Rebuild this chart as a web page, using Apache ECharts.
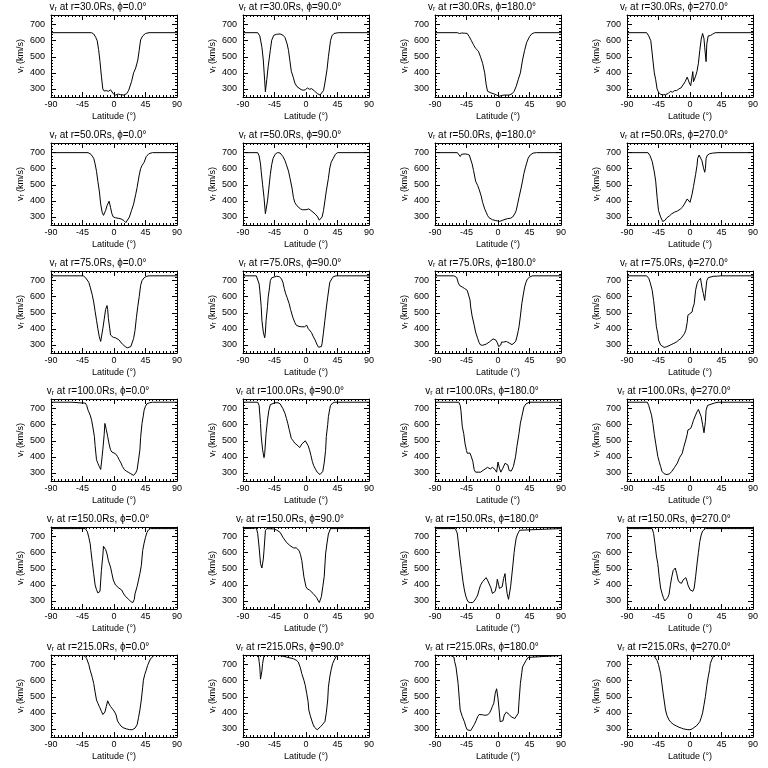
<!DOCTYPE html>
<html><head><meta charset="utf-8">
<script src="https://cdn.jsdelivr.net/npm/echarts@6/dist/echarts.min.js"></script>
<style>html,body{margin:0;padding:0;background:#fff}#c{width:768px;height:768px}</style>
</head><body><div id="c"></div>
<script>
// ---- labels / ticks ----
const radii = ['30.0', '50.0', '75.0', '100.0', '150.0', '215.0'];
const phis = ['0.0', '90.0', '180.0', '270.0'];
const xTicks = [-90, -45, 0, 45, 90];
const yTicks = [300, 400, 500, 600, 700];
const yMinorTicks = [260, 280, 320, 340, 360, 380, 420, 440, 460, 480, 520, 540, 560, 580, 620, 640, 660, 680, 720, 740];

// ---- data: [latitude (deg), v_r (km/s)] ----
const v_r30_p0 = [[-90,650],[-32,650],[-29,642],[-26,620],[-24,600],[-22,545],[-20,470],[-18,380],[-16,300],[-14,287],[-11,290],[-8,285],[-5,295],[-3,285],[-1,270],[2,262],[6,268],[9,265],[14,262],[18,270],[21,292],[25,345],[28,400],[31,430],[34,480],[36,540],[38,605],[41,630],[45,645],[50,650],[90,650]];
const v_r30_p90 = [[-90,650],[-69,650],[-66,630],[-63,560],[-61,480],[-59,350],[-58,282],[-56,360],[-54,440],[-51,540],[-49,603],[-46,634],[-42,640],[-37,642],[-33,635],[-30,620],[-27,580],[-25,540],[-23,475],[-21,410],[-18,370],[-16,337],[-13,315],[-11,306],[-7,296],[-4,292],[-1,295],[2,306],[5,298],[8,302],[12,288],[16,272],[20,262],[22,260],[25,290],[27,337],[30,420],[32,500],[35,600],[37,630],[40,645],[46,650],[90,650]];
const v_r30_p180 = [[-90,650],[-58,650],[-55,645],[-52,648],[-48,647],[-44,645],[-41,625],[-38,600],[-35,575],[-32,552],[-28,535],[-25,500],[-22,460],[-19,400],[-17,330],[-15,286],[-10,275],[-6,270],[-2,262],[2,255],[6,260],[9,262],[13,262],[16,262],[20,270],[23,285],[26,316],[29,360],[32,400],[35,480],[38,540],[41,590],[45,625],[48,642],[52,650],[90,650]];
const v_r30_p270 = [[-90,650],[-62,650],[-59,630],[-56,600],[-53,480],[-51,400],[-49,357],[-47,300],[-45,280],[-42,266],[-38,264],[-35,265],[-31,272],[-28,285],[-25,280],[-22,290],[-19,290],[-16,300],[-13,306],[-10,325],[-7,345],[-4,374],[-2,350],[-1,337],[1,320],[2,312],[4,408],[5,345],[6,350],[8,380],[10,410],[12,460],[14,540],[16,610],[18,645],[20,612],[21,560],[23,470],[24,580],[26,630],[29,632],[32,640],[36,650],[90,650]];

const v_r50_p0 = [[-90,700],[-37,700],[-33,690],[-29,665],[-27,630],[-25,584],[-23,520],[-21,462],[-19,380],[-17,330],[-15,310],[-12,340],[-10,370],[-7,398],[-5,360],[-3,320],[-1,300],[2,295],[6,292],[10,288],[14,278],[17,265],[19,268],[22,300],[25,340],[28,380],[31,440],[33,483],[36,560],[38,600],[40,620],[43,640],[46,675],[50,694],[55,700],[90,700]];
const v_r50_p90 = [[-90,700],[-69,700],[-67,680],[-65,630],[-64,584],[-62,500],[-60,422],[-58,320],[-57,318],[-55,400],[-53,480],[-51,564],[-49,625],[-47,665],[-44,690],[-41,700],[-37,698],[-33,676],[-30,650],[-28,625],[-25,585],[-23,544],[-20,480],[-18,422],[-16,390],[-13,370],[-11,360],[-8,350],[-5,345],[0,345],[4,350],[7,340],[10,330],[13,318],[16,305],[19,280],[21,272],[23,300],[25,340],[27,400],[29,462],[32,540],[34,605],[36,640],[39,665],[42,690],[45,700],[90,700]];
const v_r50_p180 = [[-90,700],[-58,700],[-56,690],[-54,676],[-52,690],[-51,695],[-47,692],[-44,690],[-41,685],[-39,676],[-37,630],[-35,590],[-32,523],[-29,495],[-27,472],[-24,430],[-22,391],[-19,350],[-17,330],[-15,310],[-13,296],[-8,283],[-4,278],[-1,276],[2,272],[4,280],[7,280],[10,285],[14,290],[18,292],[21,300],[24,320],[26,340],[28,380],[30,422],[33,480],[35,523],[37,570],[39,605],[41,635],[43,665],[46,685],[50,697],[55,700],[90,700]];
const v_r50_p270 = [[-90,700],[-60,700],[-57,680],[-54,645],[-51,580],[-49,523],[-47,422],[-45,340],[-42,300],[-39,272],[-36,278],[-33,295],[-29,308],[-26,320],[-22,330],[-18,337],[-14,348],[-11,360],[-8,380],[-6,391],[-4,412],[-2,418],[0,391],[1,395],[3,442],[5,490],[8,564],[10,620],[11,665],[13,685],[15,688],[17,650],[19,610],[21,578],[22,600],[23,665],[25,685],[28,693],[32,697],[40,700],[90,700]];

const v_r75_p0 = [[-90,730],[-44,730],[-41,720],[-39,710],[-36,690],[-34,660],[-31,610],[-29,567],[-27,510],[-25,454],[-23,400],[-21,350],[-19,322],[-18,330],[-16,400],[-14,460],[-12,520],[-10,545],[-9,520],[-8,464],[-6,400],[-5,362],[-3,350],[-1,347],[2,345],[4,340],[7,332],[9,320],[12,305],[16,290],[19,282],[21,280],[24,290],[26,300],[28,340],[30,390],[32,470],[34,540],[36,600],[38,670],[40,700],[43,718],[46,726],[50,730],[90,730]];
const v_r75_p90 = [[-90,730],[-71,730],[-69,720],[-67,680],[-66,640],[-64,540],[-63,454],[-61,380],[-59,345],[-58,380],[-57,454],[-55,540],[-54,597],[-52,660],[-51,700],[-49,718],[-47,725],[-42,727],[-38,725],[-35,710],[-33,690],[-31,650],[-29,618],[-27,595],[-24,556],[-22,520],[-19,474],[-16,440],[-14,423],[-10,415],[-6,413],[-2,413],[1,423],[3,403],[5,395],[8,376],[10,355],[13,331],[16,300],[18,286],[20,280],[22,290],[23,310],[25,380],[27,454],[29,530],[31,597],[33,660],[34,690],[37,712],[39,725],[43,730],[90,730]];
const v_r75_p180 = [[-90,730],[-63,730],[-61,727],[-59,720],[-57,690],[-55,670],[-53,665],[-51,660],[-48,652],[-46,643],[-44,640],[-42,628],[-40,580],[-39,536],[-37,480],[-34,423],[-32,380],[-29,340],[-27,315],[-25,300],[-22,298],[-20,300],[-17,305],[-15,310],[-12,320],[-10,330],[-7,338],[-5,340],[-3,330],[-1,314],[1,290],[2,285],[4,300],[5,318],[8,318],[10,318],[12,322],[14,327],[16,312],[17,300],[20,302],[22,305],[25,320],[27,350],[29,390],[30,413],[32,480],[34,556],[36,610],[38,660],[40,690],[42,710],[45,722],[49,730],[90,730]];
const v_r75_p270 = [[-90,730],[-62,730],[-59,715],[-57,690],[-54,640],[-52,577],[-50,500],[-48,413],[-46,370],[-45,331],[-42,300],[-40,290],[-37,285],[-34,288],[-30,295],[-27,302],[-23,310],[-19,320],[-16,331],[-13,340],[-11,350],[-8,370],[-6,392],[-4,440],[-3,485],[-1,490],[0,495],[3,505],[4,530],[6,556],[8,640],[10,680],[12,700],[15,715],[17,660],[19,620],[21,577],[22,620],[24,700],[26,718],[27,725],[33,727],[39,728],[44,730],[90,730]];

const v_r100_p0 = [[-90,740],[-60,740],[-58,735],[-45,735],[-41,735],[-39,720],[-37,690],[-34,660],[-32,628],[-30,580],[-28,526],[-27,470],[-25,382],[-23,360],[-21,340],[-19,322],[-18,330],[-17,400],[-16,444],[-14,540],[-13,608],[-11,570],[-9,526],[-7,480],[-5,444],[-3,430],[-2,423],[2,420],[5,403],[7,385],[10,362],[12,340],[15,320],[18,310],[21,303],[24,295],[26,288],[28,285],[31,300],[33,320],[35,380],[37,444],[38,520],[40,608],[42,660],[43,690],[45,715],[47,730],[51,737],[55,740],[90,740]];
const v_r100_p90 = [[-90,740],[-69,740],[-67,720],[-65,608],[-64,530],[-62,444],[-60,395],[-59,420],[-57,546],[-55,630],[-53,690],[-51,725],[-49,735],[-45,736],[-40,737],[-37,730],[-35,720],[-33,700],[-30,670],[-28,640],[-26,608],[-24,570],[-21,515],[-18,498],[-16,485],[-13,475],[-11,464],[-9,458],[-6,480],[-4,490],[-1,500],[1,495],[3,470],[5,444],[7,410],[9,372],[11,345],[14,320],[16,305],[18,298],[20,290],[22,280],[24,310],[26,362],[28,440],[29,526],[31,600],[32,650],[34,700],[35,720],[38,735],[41,740],[90,740]];
const v_r100_p180 = [[-90,740],[-56,740],[-54,720],[-53,690],[-51,587],[-49,546],[-47,480],[-45,440],[-44,423],[-40,423],[-38,400],[-36,372],[-34,320],[-32,305],[-30,300],[-25,305],[-20,320],[-15,335],[-11,325],[-8,335],[-4,320],[-2,305],[0,368],[2,330],[4,305],[7,330],[10,360],[12,365],[14,350],[16,315],[19,312],[22,340],[25,400],[27,464],[30,546],[32,610],[34,650],[37,710],[40,730],[42,735],[45,740],[90,740]];
const v_r100_p270 = [[-90,740],[-61,740],[-59,720],[-57,690],[-55,660],[-53,608],[-51,540],[-49,485],[-47,430],[-46,403],[-44,370],[-42,340],[-40,310],[-37,295],[-33,290],[-29,295],[-26,310],[-22,335],[-18,362],[-15,395],[-11,423],[-9,460],[-6,505],[-4,540],[-3,567],[-1,575],[1,577],[3,600],[5,628],[8,660],[10,680],[12,695],[14,690],[16,650],[18,600],[20,550],[21,545],[22,620],[23,690],[25,720],[27,730],[35,735],[40,740],[90,740]];

const v_r150_p0 = [[-90,750],[-41,750],[-38,730],[-36,696],[-34,655],[-33,614],[-31,540],[-29,470],[-27,400],[-25,370],[-23,350],[-21,340],[-20,360],[-18,490],[-16,580],[-15,640],[-14,650],[-12,620],[-10,593],[-8,550],[-5,511],[-3,470],[-1,430],[2,400],[4,388],[7,380],[9,378],[11,368],[13,350],[16,330],[18,322],[21,310],[24,296],[27,290],[29,310],[30,344],[33,390],[35,430],[37,470],[39,520],[41,614],[43,660],[45,696],[47,725],[49,741],[52,750],[90,750]];
const v_r150_p90 = [[-90,750],[-74,752],[-71,755],[-69,720],[-67,635],[-65,532],[-63,505],[-61,560],[-60,614],[-58,737],[-56,750],[-54,750],[-46,748],[-42,741],[-37,727],[-33,696],[-28,665],[-23,645],[-18,630],[-14,630],[-10,614],[-8,590],[-6,552],[-3,450],[0,388],[2,375],[5,368],[10,347],[15,322],[17,305],[19,290],[21,300],[22,327],[24,390],[26,450],[28,593],[30,660],[32,716],[35,750],[90,750]];
const v_r150_p180 = [[-90,750],[-61,750],[-59,730],[-58,716],[-56,635],[-54,560],[-52,490],[-50,420],[-48,368],[-46,330],[-44,306],[-42,292],[-39,290],[-36,290],[-33,306],[-31,320],[-29,337],[-27,370],[-25,398],[-22,420],[-20,430],[-17,445],[-15,430],[-13,419],[-10,380],[-8,347],[-6,335],[-4,360],[-2,398],[-1,435],[1,400],[2,378],[4,372],[6,388],[8,440],[10,470],[11,420],[13,347],[15,310],[16,320],[18,388],[21,511],[23,600],[24,635],[26,690],[28,716],[31,740],[33,750],[90,750]];
const v_r150_p270 = [[-90,750],[-54,750],[-52,720],[-50,655],[-48,580],[-46,532],[-44,450],[-42,380],[-40,347],[-38,320],[-36,300],[-34,297],[-32,320],[-30,340],[-28,400],[-26,450],[-24,490],[-21,505],[-19,470],[-17,430],[-15,415],[-12,410],[-10,430],[-8,440],[-6,445],[-4,420],[-3,400],[0,370],[2,362],[4,360],[6,380],[8,450],[10,530],[12,600],[14,670],[16,710],[18,735],[22,750],[90,750]];

const v_r215_p0 = [[-90,757],[-44,757],[-41,750],[-39,737],[-36,700],[-34,665],[-31,620],[-29,583],[-27,530],[-25,480],[-23,460],[-21,440],[-18,410],[-16,390],[-15,380],[-13,405],[-11,440],[-9,475],[-7,455],[-5,440],[-3,430],[-1,418],[1,405],[3,387],[5,350],[7,336],[10,318],[13,308],[18,300],[22,296],[26,295],[30,305],[33,326],[35,370],[37,418],[39,480],[41,560],[42,603],[44,640],[46,665],[48,695],[50,716],[52,735],[54,747],[57,757],[90,757]];
const v_r215_p90 = [[-90,757],[-68,757],[-67,720],[-66,685],[-65,610],[-63,660],[-62,706],[-60,757],[-40,757],[-35,755],[-28,747],[-18,737],[-14,728],[-11,716],[-8,680],[-6,644],[-3,603],[-1,570],[1,521],[3,470],[4,418],[6,385],[8,356],[10,330],[12,311],[14,300],[16,295],[18,298],[21,315],[24,330],[27,346],[29,400],[31,480],[32,560],[34,624],[36,670],[38,706],[41,735],[44,757],[90,757]];
const v_r215_p180 = [[-90,757],[-68,757],[-66,752],[-63,747],[-62,720],[-60,685],[-57,583],[-55,470],[-54,418],[-51,377],[-48,345],[-46,315],[-44,295],[-42,290],[-39,290],[-37,300],[-34,326],[-31,355],[-29,377],[-27,390],[-25,398],[-22,388],[-19,385],[-15,387],[-12,400],[-10,418],[-8,440],[-6,460],[-4,520],[-2,550],[-1,545],[0,490],[2,400],[3,346],[5,335],[7,350],[9,387],[12,405],[13,408],[16,390],[19,375],[21,367],[24,365],[26,367],[29,398],[30,470],[32,583],[34,650],[35,685],[38,710],[40,726],[43,745],[45,757],[90,757]];
const v_r215_p270 = [[-90,757],[-52,757],[-50,745],[-47,726],[-45,700],[-42,644],[-39,542],[-37,480],[-35,418],[-33,385],[-30,356],[-27,340],[-23,326],[-19,318],[-16,311],[-12,305],[-9,300],[-4,296],[0,295],[3,300],[6,310],[9,318],[11,326],[14,345],[16,370],[18,400],[20,450],[22,501],[24,570],[26,624],[28,670],[29,706],[31,730],[34,757],[90,757]];

const panelData = [
  [v_r30_p0, v_r30_p90, v_r30_p180, v_r30_p270],
  [v_r50_p0, v_r50_p90, v_r50_p180, v_r50_p270],
  [v_r75_p0, v_r75_p90, v_r75_p180, v_r75_p270],
  [v_r100_p0, v_r100_p90, v_r100_p180, v_r100_p270],
  [v_r150_p0, v_r150_p90, v_r150_p180, v_r150_p270],
  [v_r215_p0, v_r215_p90, v_r215_p180, v_r215_p270]
];

// ---- build chart ----
const FONT = 'Liberation Sans, DejaVu Sans, sans-serif';
const BLACK = '#000';
const grids = [], xAxes = [], yAxes = [], series = [], titles = [];
const txt = (size) => ({ color: BLACK, fontSize: size, fontFamily: FONT });

for (let i = 0; i < radii.length; i++) {
  for (let j = 0; j < phis.length; j++) {
    const k = grids.length;
    grids.push({ left: 51 + 192 * j, top: 15 + 128 * i, width: 126, height: 82 });
    titles.push({
      text: 'vᵣ at r=' + radii[i] + 'Rs, ϕ=' + phis[j] + '°',
      left: 98 + 192 * j, top: 2 + 128 * i, textAlign: 'center', padding: 0,
      textStyle: Object.assign({ fontWeight: 'normal' }, txt(10))
    });
    const xBase = {
      gridIndex: k, type: 'value', min: -90, max: 90, interval: 45,
      axisLine: { show: true, onZero: false, lineStyle: { color: BLACK, width: 1 } },
      axisTick: { show: true, inside: true, length: 5, lineStyle: { color: BLACK } },
      minorTick: { show: true, splitNumber: 9, length: 2, lineStyle: { color: BLACK } },
      splitLine: { show: false }, minorSplitLine: { show: false }
    };
    xAxes.push(Object.assign({}, xBase, {
      position: 'bottom',
      axisLabel: Object.assign({ show: true, margin: 3, customValues: xTicks }, txt(9)),
      name: 'Latitude (°)', nameLocation: 'middle', nameGap: 15, nameTextStyle: txt(9)
    }));
    xAxes.push(Object.assign({}, xBase, { position: 'top', axisLabel: { show: false } }));
    const yBase = { gridIndex: k, type: 'value', min: 250, max: 760, splitLine: { show: false } };
    yAxes.push(Object.assign({}, yBase, {
      position: 'left',
      axisLine: { show: true, onZero: false, lineStyle: { color: BLACK, width: 1 } },
      axisTick: { show: true, inside: true, length: 5, customValues: yTicks, lineStyle: { color: BLACK } },
      axisLabel: Object.assign({ show: true, margin: 6, customValues: yTicks }, txt(9)),
      name: 'vᵣ (km/s)', nameLocation: 'middle', nameGap: 26, nameTextStyle: txt(9)
    }));
    yAxes.push(Object.assign({}, yBase, {
      position: 'left', axisLine: { show: false, onZero: false },
      axisTick: { show: true, inside: true, length: 2, customValues: yMinorTicks, lineStyle: { color: BLACK } },
      axisLabel: { show: false }
    }));
    yAxes.push(Object.assign({}, yBase, {
      position: 'right',
      axisLine: { show: true, onZero: false, lineStyle: { color: BLACK, width: 1 } },
      axisTick: { show: true, inside: true, length: 5, customValues: yTicks, lineStyle: { color: BLACK } },
      axisLabel: { show: false }
    }));
    yAxes.push(Object.assign({}, yBase, {
      position: 'right', axisLine: { show: false, onZero: false },
      axisTick: { show: true, inside: true, length: 2, customValues: yMinorTicks, lineStyle: { color: BLACK } },
      axisLabel: { show: false }
    }));
    series.push({
      type: 'line', xAxisIndex: 2 * k, yAxisIndex: 4 * k, data: panelData[i][j],
      showSymbol: false, symbol: 'none', silent: true,
      lineStyle: { color: BLACK, width: 1 }
    });
  }
}

const chart = echarts.init(document.getElementById('c'), null, { renderer: 'canvas' });
chart.setOption({
  backgroundColor: '#fff', animation: false,
  title: titles, grid: grids, xAxis: xAxes, yAxis: yAxes, series: series
});
</script></body></html>
